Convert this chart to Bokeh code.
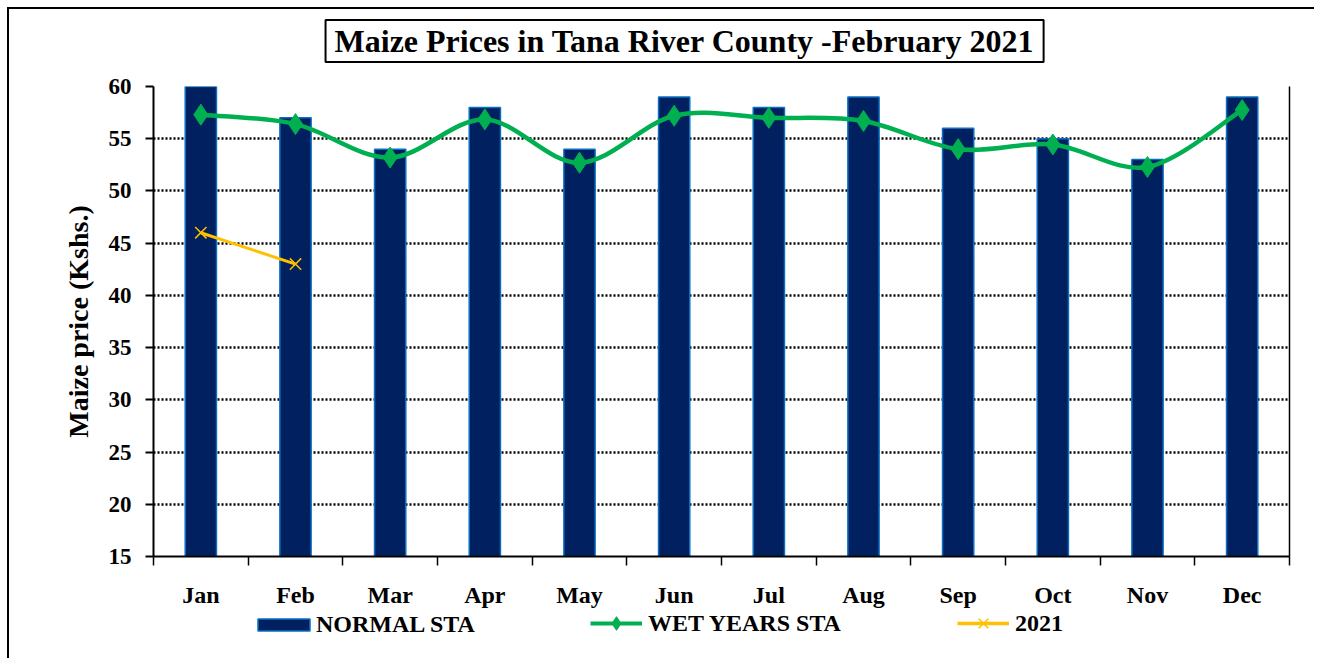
import numpy as np
from bokeh.plotting import figure
from bokeh.layouts import column
from bokeh.models import (Range1d, FixedTicker, LinearAxis, Legend, LegendItem, Label)
from bokeh.embed import file_html
from bokeh.resources import INLINE

months = ["Jan", "Feb", "Mar", "Apr", "May", "Jun", "Jul", "Aug", "Sep", "Oct", "Nov", "Dec"]
normal_sta = [60, 57, 54, 58, 54, 59, 58, 59, 56, 55, 53, 59]
wet_years_sta = [57.3, 56.4, 53.2, 56.85, 52.7, 57.2, 57.0, 56.7, 54.0, 54.45, 52.3, 57.75]
y2021 = [46, 43]
y_ticks = [15, 20, 25, 30, 35, 40, 45, 50, 55, 60]
title_text = "Maize Prices in Tana River County -February 2021"

FONT = "Liberation Serif"
NAVY = "#002060"
NAVY_EDGE = "#0A6FC2"
GREEN = "#00B050"
GOLD = "#FFC000"

W = 1305
H_TITLE = 62
H_MAIN = 540
H_LEG = 47

xc = np.arange(len(months)) + 0.5
wy = np.array(wet_years_sta, dtype=float)

# ---------------- Title strip ----------------
tf = figure(width=W, height=H_TITLE, output_backend="svg", toolbar_location=None,
            x_range=Range1d(0, 12), y_range=Range1d(0, 1),
            x_axis_type=None, y_axis_type=None,
            min_border_left=0, min_border_right=0, min_border_top=0, min_border_bottom=0)
tf.outline_line_color = None
tf.grid.visible = False
tf.border_fill_color = "white"
tf.background_fill_color = "white"
tf.add_layout(Label(x=5.61, y=0.49, text=title_text,
                    text_font=FONT, text_font_style="bold", text_font_size="32px",
                    text_align="center", text_baseline="middle", text_color="black",
                    border_line_color="black", border_line_width=2,
                    background_fill_color="white", padding=(9, 3)))

# ---------------- Main chart ----------------
p = figure(width=W, height=H_MAIN, output_backend="svg", toolbar_location=None,
           x_range=Range1d(0, 12), y_range=Range1d(15, 60),
           min_border_left=144, min_border_right=25, min_border_top=15,
           min_border_bottom=55)
p.outline_line_color = None
p.background_fill_color = "white"
p.border_fill_color = "white"

# Bars
p.vbar(x=xc, top=normal_sta, bottom=15, width=0.33,
       fill_color=NAVY, line_color=NAVY_EDGE, line_width=1.5)

# Smooth wet years curve (Excel-like Catmull-Rom Bezier)
n = len(wy)
x0, y0, x1, y1, cx0, cy0, cx1, cy1 = ([] for _ in range(8))
for i in range(n - 1):
    im1 = max(i - 1, 0)
    ip2 = min(i + 2, n - 1)
    x0.append(xc[i]); y0.append(wy[i])
    x1.append(xc[i + 1]); y1.append(wy[i + 1])
    cx0.append(xc[i] + (xc[i + 1] - xc[im1]) / 6)
    cy0.append(wy[i] + (wy[i + 1] - wy[im1]) / 6)
    cx1.append(xc[i + 1] - (xc[ip2] - xc[i]) / 6)
    cy1.append(wy[i + 1] - (wy[ip2] - wy[i]) / 6)
p.bezier(x0=x0, y0=y0, x1=x1, y1=y1, cx0=cx0, cy0=cy0, cx1=cx1, cy1=cy1,
         line_color=GREEN, line_width=4.5)
p.scatter(x=xc, y=wy, marker="diamond", size=21, fill_color=GREEN, line_color=GREEN)

# 2021
p.line(x=xc[:len(y2021)], y=y2021, line_color=GOLD, line_width=3)
p.scatter(x=xc[:len(y2021)], y=y2021, marker="x", size=16, line_color=GOLD, line_width=1.5)

# Axes styling
yax = p.yaxis[0]
yax.ticker = FixedTicker(ticks=y_ticks, minor_ticks=[])
yax.axis_line_color = "black"
yax.axis_line_width = 2
yax.major_tick_out = 8
yax.major_tick_in = 0
yax.major_tick_line_width = 2
yax.minor_tick_line_color = None
yax.major_label_text_font = FONT
yax.major_label_text_font_style = "bold"
yax.major_label_text_font_size = "23px"
yax.major_label_text_color = "black"
yax.major_label_standoff = 14
yax.axis_label = "Maize price (Kshs.)"
yax.axis_label_text_font = FONT
yax.axis_label_text_font_style = "bold"
yax.axis_label_text_font_size = "28px"
yax.axis_label_text_color = "black"
yax.axis_label_standoff = 12

xax = p.xaxis[0]
xax.ticker = FixedTicker(ticks=list(xc), minor_ticks=list(range(len(months) + 1)))
xax.major_label_overrides = {float(c): m for c, m in zip(xc, months)}
xax.axis_line_color = "black"
xax.axis_line_width = 2
xax.major_tick_line_color = None
xax.major_tick_out = 0
xax.major_tick_in = 0
xax.minor_tick_out = 9
xax.minor_tick_in = 0
xax.minor_tick_line_color = "black"
xax.minor_tick_line_width = 1.5
xax.major_label_text_font = FONT
xax.major_label_text_font_style = "bold"
xax.major_label_text_font_size = "24px"
xax.major_label_text_color = "black"
xax.major_label_standoff = 16

right_ax = LinearAxis(ticker=FixedTicker(ticks=[]), axis_line_color="black",
                      axis_line_width=1.5, major_tick_line_color=None,
                      minor_tick_line_color=None)
p.add_layout(right_ax, "right")

p.xgrid.grid_line_color = None
p.ygrid.ticker = FixedTicker(ticks=y_ticks)
p.ygrid.grid_line_color = "black"
p.ygrid.grid_line_dash = "2 2"
p.ygrid.grid_line_width = 2.5

# ---------------- Legend strip ----------------
# Hidden renderers built from the same data; they only provide legend glyphs.
lf = figure(width=W, height=H_LEG, output_backend="svg", toolbar_location=None,
            x_range=Range1d(100, 101), y_range=Range1d(100, 101),
            x_axis_type=None, y_axis_type=None,
            min_border_left=0, min_border_right=0, min_border_top=0, min_border_bottom=0)
lf.outline_line_color = None
lf.grid.visible = False
lf.border_fill_color = "white"
lf.background_fill_color = "white"
lg_bar = lf.vbar(x=xc, top=normal_sta, bottom=15, width=0.33,
                 fill_color=NAVY, line_color=NAVY_EDGE, line_width=1.5)
lg_wet_line = lf.line(x=xc, y=wy, line_color=GREEN, line_width=4)
lg_wet_pt = lf.scatter(x=xc, y=wy, marker="diamond", size=17, fill_color=GREEN, line_color=GREEN)
lg_21_line = lf.line(x=xc[:len(y2021)], y=y2021, line_color=GOLD, line_width=3.5)
lg_21_pt = lf.scatter(x=xc[:len(y2021)], y=y2021, marker="x", size=16, line_color=GOLD, line_width=1.5)
for r in (lg_bar, lg_wet_line, lg_wet_pt, lg_21_line, lg_21_pt):
    r.visible = False


def style_legend(lg, glyph_w, glyph_h, standoff):
    lg.label_text_font = FONT
    lg.label_text_font_style = "bold"
    lg.label_text_font_size = "24px"
    lg.label_text_color = "black"
    lg.border_line_color = None
    lg.background_fill_alpha = 0
    lg.inactive_fill_alpha = 0
    lg.padding = 0
    lg.margin = 0
    lg.glyph_width = glyph_w
    lg.glyph_height = glyph_h
    lg.label_standoff = standoff
    lg.label_height = 24


leg_bar = Legend(items=[LegendItem(label="NORMAL STA", renderers=[lg_bar])],
                 orientation="horizontal", location=(98, 20))
style_legend(leg_bar, 65, 15, 0)
lf.add_layout(leg_bar)

leg_lines = Legend(items=[
    LegendItem(label="WET YEARS STA", renderers=[lg_wet_line, lg_wet_pt]),
    LegendItem(label="2021", renderers=[lg_21_line, lg_21_pt]),
], orientation="horizontal", location=(437, 18))
style_legend(leg_lines, 52, 34, 6)
leg_lines.spacing = 116
lf.add_layout(leg_lines)

layout = column(tf, p, lf, spacing=0)
layout.styles = {"margin-left": "7px", "margin-top": "7px",
                 "border-left": "2px solid black", "border-top": "2px solid black"}

open("out.html", "w").write(file_html(layout, INLINE))
